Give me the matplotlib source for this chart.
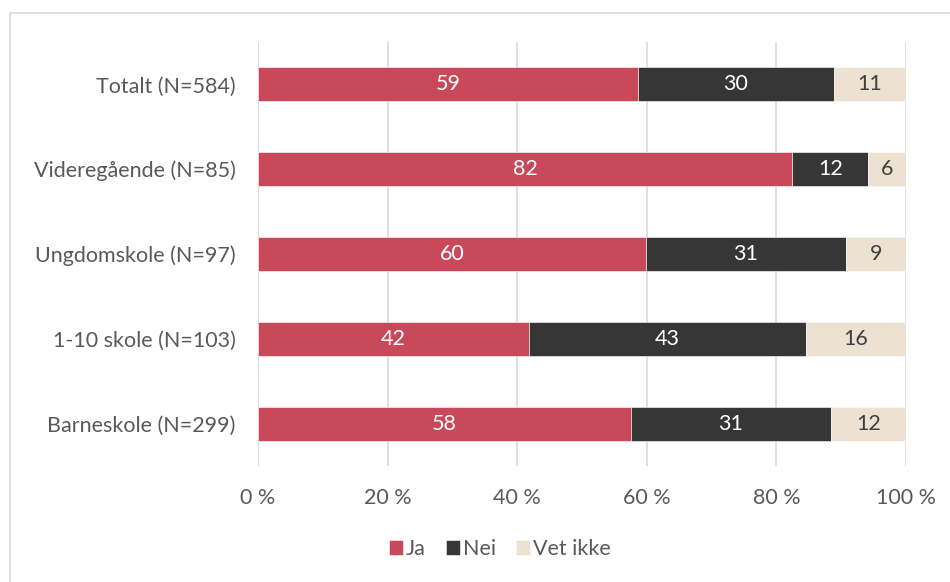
import numpy as np
import matplotlib.pyplot as plt
from matplotlib.patches import Rectangle

categories = ["Totalt (N=584)", "Videregående (N=85)", "Ungdomskole (N=97)",
              "1-10 skole (N=103)", "Barneskole (N=299)"]
ja = [58.6, 82.4, 59.8, 41.8, 57.6]
nei = [30.3, 11.8, 31.0, 42.7, 30.8]
vet_ikke = [11.1, 5.8, 9.2, 15.5, 11.6]
ja_lbl = [59, 82, 60, 42, 58]
nei_lbl = [30, 12, 31, 43, 31]
vet_lbl = [11, 6, 9, 16, 12]
series_names = ["Ja", "Nei", "Vet ikke"]
colors = ["#C84A5A", "#363636", "#EDE1D2"]
text_colors = ["white", "white", "#404040"]

plt.rcParams['font.family'] = ['Lato', 'DejaVu Sans']
fs = 15.5

fig = plt.figure(figsize=(9.5, 5.82), dpi=100)
ax = fig.add_axes([258 / 950, 1 - 466 / 582, 648 / 950, 424 / 582])

# light border around the chart area
fig.patches.append(Rectangle((10 / 950, -0.1), 1.0, 1 - 13 / 582 + 0.1,
                             transform=fig.transFigure, fill=False,
                             edgecolor="#D9D9D9", linewidth=1.2))

y = np.arange(len(categories))
left = np.zeros(len(categories))
for vals, lbls, name, c, tc in zip([ja, nei, vet_ikke], [ja_lbl, nei_lbl, vet_lbl],
                                   series_names, colors, text_colors):
    bars = ax.barh(y, vals, left=left, height=0.4, color=c, label=name,
                   edgecolor="white", linewidth=0.4, zorder=3)
    ax.bar_label(bars, labels=[str(v) for v in lbls], label_type="center",
                 color=tc, fontsize=fs)
    left += np.array(vals)

ax.set_yticks(y)
ax.set_yticklabels(categories)
ax.set_ylim(len(categories) - 0.5, -0.5)
ax.set_xlim(0, 100)
ax.set_xticks(np.arange(0, 101, 20))
ax.set_xticklabels([f"{v} %" for v in range(0, 101, 20)])
ax.tick_params(axis="both", length=0, labelsize=fs, labelcolor="#595959")
ax.tick_params(axis="x", pad=16)
ax.tick_params(axis="y", pad=16)
ax.grid(axis="x", color="#D9D9D9", linewidth=1.2, zorder=0)
for s in ax.spines.values():
    s.set_visible(False)

leg = fig.legend(loc="center", bbox_to_anchor=(500 / 950, 1 - 549 / 582), ncol=3,
                 frameon=False, fontsize=fs, handlelength=0.65, handleheight=0.65,
                 handletextpad=0.15, columnspacing=0.93)
for t in leg.get_texts():
    t.set_color("#595959")

fig.savefig("out.png", dpi=100)
